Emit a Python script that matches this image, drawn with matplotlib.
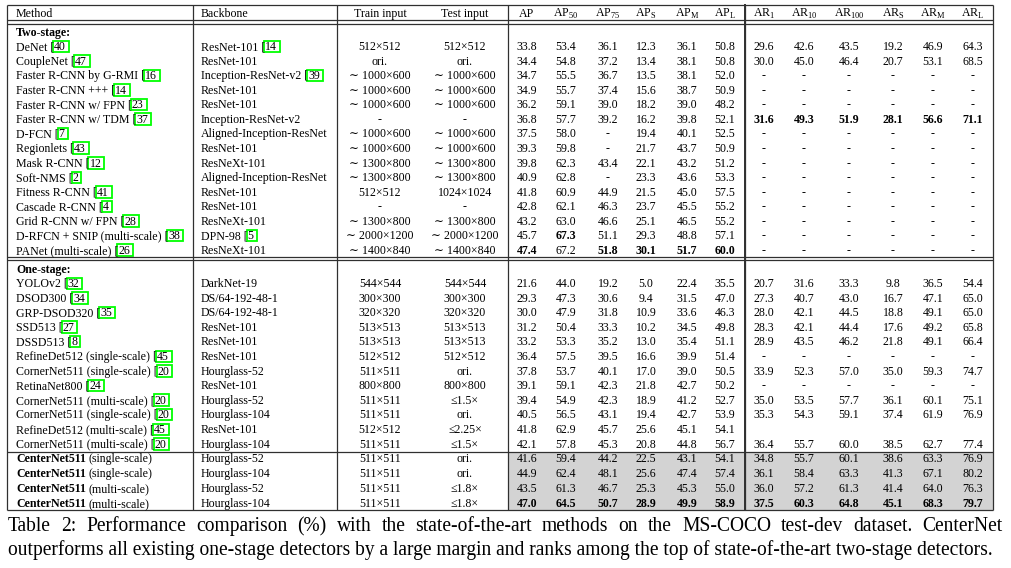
import matplotlib
matplotlib.use("Agg")
import matplotlib.pyplot as plt
from matplotlib.patches import Rectangle

plt.rcParams['font.family'] = ['Liberation Serif', 'DejaVu Serif']
plt.rcParams['mathtext.fontset'] = 'custom'
plt.rcParams['mathtext.rm'] = 'Liberation Serif'
plt.rcParams['mathtext.bf'] = 'Liberation Serif:bold'

# ---- table data ----
metric_names = ['AP', r'AP$_{50}$', r'AP$_{75}$', r'AP$_{\mathrm{S}}$', r'AP$_{\mathrm{M}}$', r'AP$_{\mathrm{L}}$',
                r'AR$_{1}$', r'AR$_{10}$', r'AR$_{100}$', r'AR$_{\mathrm{S}}$', r'AR$_{\mathrm{M}}$', r'AR$_{\mathrm{L}}$']

two_names = ["DeNet", "CoupleNet", "Faster R-CNN by G-RMI", "Faster R-CNN +++", "Faster R-CNN w/ FPN",
             "Faster R-CNN w/ TDM", "D-FCN", "Regionlets", "Mask R-CNN", "Soft-NMS", "Fitness R-CNN",
             "Cascade R-CNN", "Grid R-CNN w/ FPN", "D-RFCN + SNIP (multi-scale)", "PANet (multi-scale)"]
two_refs = ["40", "47", "16", "14", "23", "37", "7", "43", "12", "2", "41", "4", "28", "38", "26"]
two_backbones = ["ResNet-101", "ResNet-101", "Inception-ResNet-v2", "ResNet-101", "ResNet-101",
                 "Inception-ResNet-v2", "Aligned-Inception-ResNet", "ResNet-101", "ResNeXt-101",
                 "Aligned-Inception-ResNet", "ResNet-101", "ResNet-101", "ResNeXt-101", "DPN-98", "ResNeXt-101"]
two_bb_refs = ["14", "", "39", "", "", "", "", "", "", "", "", "", "", "5", ""]
two_train = ["512×512", "ori.", "∼ 1000×600", "∼ 1000×600", "∼ 1000×600", "-", "∼ 1000×600", "∼ 1000×600",
             "∼ 1300×800", "∼ 1300×800", "512×512", "-", "∼ 1300×800", "∼ 2000×1200", "∼ 1400×840"]
two_test = ["512×512", "ori.", "∼ 1000×600", "∼ 1000×600", "∼ 1000×600", "-", "∼ 1000×600", "∼ 1000×600",
            "∼ 1300×800", "∼ 1300×800", "1024×1024", "-", "∼ 1300×800", "∼ 2000×1200", "∼ 1400×840"]
two_ap = [[33.8, 53.4, 36.1, 12.3, 36.1, 50.8],
          [34.4, 54.8, 37.2, 13.4, 38.1, 50.8],
          [34.7, 55.5, 36.7, 13.5, 38.1, 52.0],
          [34.9, 55.7, 37.4, 15.6, 38.7, 50.9],
          [36.2, 59.1, 39.0, 18.2, 39.0, 48.2],
          [36.8, 57.7, 39.2, 16.2, 39.8, 52.1],
          [37.5, 58.0, None, 19.4, 40.1, 52.5],
          [39.3, 59.8, None, 21.7, 43.7, 50.9],
          [39.8, 62.3, 43.4, 22.1, 43.2, 51.2],
          [40.9, 62.8, None, 23.3, 43.6, 53.3],
          [41.8, 60.9, 44.9, 21.5, 45.0, 57.5],
          [42.8, 62.1, 46.3, 23.7, 45.5, 55.2],
          [43.2, 63.0, 46.6, 25.1, 46.5, 55.2],
          [45.7, 67.3, 51.1, 29.3, 48.8, 57.1],
          [47.4, 67.2, 51.8, 30.1, 51.7, 60.0]]
NA = [None] * 6
two_ar = [[29.6, 42.6, 43.5, 19.2, 46.9, 64.3],
          [30.0, 45.0, 46.4, 20.7, 53.1, 68.5],
          NA, NA, NA,
          [31.6, 49.3, 51.9, 28.1, 56.6, 71.1],
          NA, NA, NA, NA, NA, NA, NA, NA, NA]
two_bold = {5: [6, 7, 8, 9, 10, 11], 13: [1], 14: [0, 2, 3, 4, 5]}

one_names = ["YOLOv2", "DSOD300", "GRP-DSOD320", "SSD513", "DSSD513", "RefineDet512 (single-scale)",
             "CornerNet511 (single-scale)", "RetinaNet800", "CornerNet511 (multi-scale)",
             "CornerNet511 (single-scale)", "RefineDet512 (multi-scale)", "CornerNet511 (multi-scale)"]
one_refs = ["32", "34", "35", "27", "8", "45", "20", "24", "20", "20", "45", "20"]
one_backbones = ["DarkNet-19", "DS/64-192-48-1", "DS/64-192-48-1", "ResNet-101", "ResNet-101", "ResNet-101",
                 "Hourglass-52", "ResNet-101", "Hourglass-52", "Hourglass-104", "ResNet-101", "Hourglass-104"]
one_train = ["544×544", "300×300", "320×320", "513×513", "513×513", "512×512", "511×511", "800×800",
             "511×511", "511×511", "512×512", "511×511"]
one_test = ["544×544", "300×300", "320×320", "513×513", "513×513", "512×512", "ori.", "800×800",
            "≤1.5×", "ori.", "≤2.25×", "≤1.5×"]
one_ap = [[21.6, 44.0, 19.2, 5.0, 22.4, 35.5],
          [29.3, 47.3, 30.6, 9.4, 31.5, 47.0],
          [30.0, 47.9, 31.8, 10.9, 33.6, 46.3],
          [31.2, 50.4, 33.3, 10.2, 34.5, 49.8],
          [33.2, 53.3, 35.2, 13.0, 35.4, 51.1],
          [36.4, 57.5, 39.5, 16.6, 39.9, 51.4],
          [37.8, 53.7, 40.1, 17.0, 39.0, 50.5],
          [39.1, 59.1, 42.3, 21.8, 42.7, 50.2],
          [39.4, 54.9, 42.3, 18.9, 41.2, 52.7],
          [40.5, 56.5, 43.1, 19.4, 42.7, 53.9],
          [41.8, 62.9, 45.7, 25.6, 45.1, 54.1],
          [42.1, 57.8, 45.3, 20.8, 44.8, 56.7]]
one_ar = [[20.7, 31.6, 33.3, 9.8, 36.5, 54.4],
          [27.3, 40.7, 43.0, 16.7, 47.1, 65.0],
          [28.0, 42.1, 44.5, 18.8, 49.1, 65.0],
          [28.3, 42.1, 44.4, 17.6, 49.2, 65.8],
          [28.9, 43.5, 46.2, 21.8, 49.1, 66.4],
          NA,
          [33.9, 52.3, 57.0, 35.0, 59.3, 74.7],
          NA,
          [35.0, 53.5, 57.7, 36.1, 60.1, 75.1],
          [35.3, 54.3, 59.1, 37.4, 61.9, 76.9],
          [],
          [36.4, 55.7, 60.0, 38.5, 62.7, 77.4]]

ours_scale = ["(single-scale)", "(single-scale)", "(multi-scale)", "(multi-scale)"]
ours_backbones = ["Hourglass-52", "Hourglass-104", "Hourglass-52", "Hourglass-104"]
ours_train = ["511×511", "511×511", "511×511", "511×511"]
ours_test = ["ori.", "ori.", "≤1.8×", "≤1.8×"]
ours_ap = [[41.6, 59.4, 44.2, 22.5, 43.1, 54.1],
           [44.9, 62.4, 48.1, 25.6, 47.4, 57.4],
           [43.5, 61.3, 46.7, 25.3, 45.3, 55.0],
           [47.0, 64.5, 50.7, 28.9, 49.9, 58.9]]
ours_ar = [[34.8, 55.7, 60.1, 38.6, 63.3, 76.9],
           [36.1, 58.4, 63.3, 41.3, 67.1, 80.2],
           [36.0, 57.2, 61.3, 41.4, 64.0, 76.3],
           [37.5, 60.3, 64.8, 45.1, 68.3, 79.7]]

caption1 = ("Table 2: Performance comparison (%) with the state-of-the-art methods on the "
            "MS-COCO test-dev dataset.  CenterNet")
caption2 = ("outperforms all existing one-stage detectors by a large margin and ranks among "
            "the top of state-of-the-art two-stage detectors.")

# ---- layout ----
W, H = 1012, 568
fig = plt.figure(figsize=(W / 100, H / 100), dpi=100)
ax = fig.add_axes([0, 0, 1, 1])
ax.set_xlim(0, W)
ax.set_ylim(H, 0)
ax.axis('off')
renderer = fig.canvas.get_renderer()

FS = 8.6
X_METHOD, X_BB, X_TRAIN, X_TEST = 16, 201, 380, 465
X_METRIC = [527, 566, 608, 646, 687, 725, 764, 804, 849, 893, 933, 973]
LINE_C = '#303030'


def width(t):
    return t.get_window_extent(renderer=renderer).width


def put(x, y, s, weight='normal', ha='left', size=FS, dy=4):
    return ax.text(x, y + dy, s, fontsize=size, fontweight=weight, ha=ha, va='baseline', color='black')


def with_ref(x, y, name, ref, weight='normal'):
    if not ref:
        put(x, y, name, weight)
        return
    t = put(x, y, name + " [", weight)
    x2 = x + width(t)
    r = put(x2, y, ref)
    w = width(r)
    ax.add_patch(Rectangle((x2 - 1, y - 5.5), w + 4, 11.5, fill=False, ec='#00ff00', lw=1.3))


def fmt(v):
    return '-' if v is None else f'{v:.1f}'


def metric_row(y, ap, ar, bold_cols=(), all_bold=False):
    vals = list(ap) + list(ar)
    for i, v in enumerate(vals):
        wt = 'bold' if (all_bold or i in bold_cols) else 'normal'
        put(X_METRIC[i], y, fmt(v), wt, ha='center')


# shading behind CenterNet metrics
ax.add_patch(Rectangle((508, 452), 993 - 508, 510 - 452, fc='#d3d3d3', ec='none', zorder=0))

# header
put(X_METHOD, 13, "Method")
put(X_BB, 13, "Backbone")
put(X_TRAIN, 13, "Train input", ha='center')
put(X_TEST, 13, "Test input", ha='center')
for i, m in enumerate(metric_names):
    put(X_METRIC[i], 13, m, ha='center')

# two-stage
put(X_METHOD, 32, "Two-stage:", 'bold')
for i in range(len(two_names)):
    y = 46 + i * 14.57
    with_ref(X_METHOD, y, two_names[i], two_refs[i])
    with_ref(X_BB, y, two_backbones[i], two_bb_refs[i])
    put(X_TRAIN, y, two_train[i], ha='center')
    put(X_TEST, y, two_test[i], ha='center')
    metric_row(y, two_ap[i], two_ar[i], two_bold.get(i, ()))

# one-stage
put(X_METHOD, 269, "One-stage:", 'bold')
for i in range(len(one_names)):
    y = 283 + i * 14.6
    with_ref(X_METHOD, y, one_names[i], one_refs[i])
    put(X_BB, y, one_backbones[i])
    put(X_TRAIN, y, one_train[i], ha='center')
    put(X_TEST, y, one_test[i], ha='center')
    metric_row(y, one_ap[i], one_ar[i])

# ours
m1, m2 = put(100, 100, "a a"), put(100, 100, "aa")
sp = width(m1) - width(m2)
m1.remove()
m2.remove()
for i in range(4):
    y = 458 + i * 15
    b = put(X_METHOD, y, "CenterNet511", 'bold')
    put(X_METHOD + width(b) + sp, y, ours_scale[i])
    put(X_BB, y, ours_backbones[i])
    put(X_TRAIN, y, ours_train[i], ha='center')
    put(X_TEST, y, ours_test[i], ha='center')
    metric_row(y, ours_ap[i], ours_ar[i], all_bold=(i == 3))

# rules
for yy in [5, 20, 24, 257, 260, 452, 510]:
    ax.plot([7, 993], [yy, yy], color=LINE_C, lw=0.9, solid_capstyle='butt')
for xx in [7, 193, 337, 508, 745, 993]:
    ax.plot([xx, xx], [5, 510], color=LINE_C, lw=0.9, solid_capstyle='butt')
ax.plot([745, 745], [5, 510], color=LINE_C, lw=1.4)

# caption
CFS = 12.6
t2 = put(8, 549, caption2, size=CFS, dy=6)
scale = 982 / width(t2)
t2.set_fontsize(CFS * scale)
words = caption1.split()
ts = [put(0, 525, w, size=CFS * scale, dy=6) for w in words]
ws = [width(t) for t in ts]
gap = (1003 - 8 - sum(ws)) / (len(words) - 1)
x = 8
for t, w in zip(ts, ws):
    t.set_x(x)
    x += w + gap

fig.savefig("out.png", dpi=100)
